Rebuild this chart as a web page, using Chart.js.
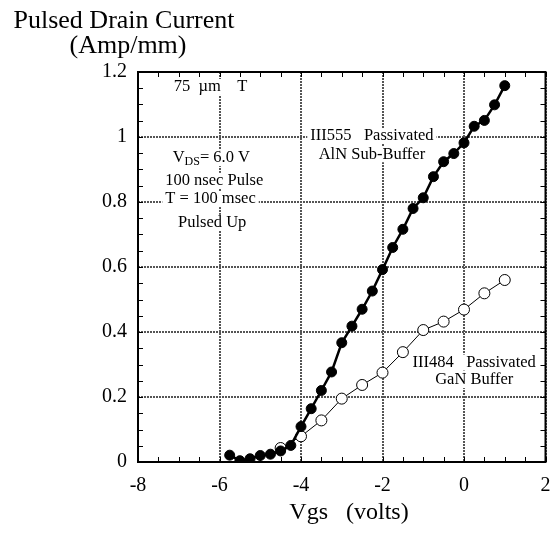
<!DOCTYPE html>
<html>
<head>
<meta charset="utf-8">
<script src="https://cdn.jsdelivr.net/npm/chart.js@4/dist/chart.umd.min.js"></script>
<style>
  html, body { margin: 0; padding: 0; background: #fff; }
  #wrap { width: 552px; height: 533px; }
</style>
</head>
<body>
<div id="wrap"><canvas id="myChart" width="552" height="533"></canvas></div>
<script>
(function() {
	'use strict';

	// Vgs (volts) for the III555 run, 0.25 V steps
	var vgsFilled = [-5.75, -5.5, -5.25, -5.0, -4.75, -4.5, -4.25, -4.0, -3.75, -3.5,
		-3.25, -3.0, -2.75, -2.5, -2.25, -2.0, -1.75, -1.5, -1.25, -1.0,
		-0.75, -0.5, -0.25, 0, 0.25, 0.5, 0.75, 1.0];
	// III555 Passivated, AlN Sub-Buffer (Amp/mm)
	var idFilled = [0.021, 0.004, 0.010, 0.020, 0.024, 0.034, 0.051, 0.109, 0.164, 0.220,
		0.277, 0.367, 0.418, 0.470, 0.526, 0.592, 0.660, 0.716, 0.780, 0.813,
		0.878, 0.924, 0.949, 0.982, 1.033, 1.051, 1.099, 1.158];

	// Vgs for the III484 run, 0.5 V steps
	var vgsOpen = [-4.5, -4.0, -3.5, -3.0, -2.5, -2.0, -1.5, -1.0, -0.5, 0, 0.5, 1.0];
	// III484 Passivated, GaN Buffer (Amp/mm)
	var idOpen = [0.043, 0.079, 0.128, 0.195, 0.237, 0.275, 0.338, 0.406, 0.432, 0.469, 0.519, 0.560];

	var xTicks = [-8, -6, -4, -2, 0, 2];
	var yTicks = [0, 0.2, 0.4, 0.6, 0.8, 1, 1.2];

	// text notes inside the plot, anchored in data units
	var notes = [
		{ x: -6.22, y: 1.154, text: '75  \u00b5m    T' },
		{ x: -6.2, y: 0.935, text: 'VDS= 6.0 V', sub: true },
		{ x: -6.13, y: 0.865, text: '100 nsec Pulse' },
		{ x: -6.22, y: 0.809, text: 'T = 100 msec' },
		{ x: -6.18, y: 0.736, text: 'Pulsed Up' },
		{ x: -2.26, y: 1.003, text: 'III555   Passivated' },
		{ x: -2.26, y: 0.947, text: 'AlN Sub-Buffer' },
		{ x: 0.25, y: 0.306, text: 'III484   Passivated' },
		{ x: 0.25, y: 0.252, text: 'GaN Buffer' }
	];

	var FONT = '"Liberation Serif", "DejaVu Serif", serif';

	function pts(xs, ys) {
		var out = [];
		for (var i = 0; i < xs.length; i++) {
			out.push({ x: xs[i], y: ys[i] });
		}
		return out;
	}

	// draws a note line, handles the V_DS subscript
	function drawNote(ctx, n, cx, cy) {
		var mainFont = '16.5px ' + FONT;
		var subFont = '12px ' + FONT;
		var parts;
		if (n.sub) {
			parts = [{ t: 'V', f: mainFont, dy: 0 }, { t: 'DS', f: subFont, dy: 4 }, { t: '= 6.0 V', f: mainFont, dy: 0 }];
		} else {
			parts = [{ t: n.text, f: mainFont, dy: 0 }];
		}
		var w = 0;
		parts.forEach(function(p) {
			ctx.font = p.f;
			p.w = ctx.measureText(p.t).width;
			w += p.w;
		});
		ctx.fillStyle = '#fff';
		ctx.fillRect(cx - w / 2 - 3, cy - 8, w + 6, 16);
		ctx.fillStyle = '#000';
		ctx.textBaseline = 'middle';
		ctx.textAlign = 'left';
		var x = cx - w / 2;
		parts.forEach(function(p) {
			ctx.font = p.f;
			ctx.fillText(p.t, x, cy + p.dy);
			x += p.w;
		});
	}

	var framePlugin = {
		id: 'frame',
		beforeDatasetsDraw: function(chart) {
			var ctx = chart.ctx;
			var xs = chart.scales.x, ys = chart.scales.y;
			ctx.save();
			notes.forEach(function(n) {
				drawNote(ctx, n, xs.getPixelForValue(n.x), ys.getPixelForValue(n.y));
			});
			ctx.restore();
		},
		afterDraw: function(chart) {
			var ctx = chart.ctx;
			var a = chart.chartArea;
			var xs = chart.scales.x, ys = chart.scales.y;
			var v, p;
			ctx.save();
			ctx.strokeStyle = '#000';
			ctx.lineWidth = 1;
			ctx.beginPath();
			// minor ticks on all four sides, pointing inward
			for (v = -8; v <= 2.001; v += 0.5) {
				p = Math.round(xs.getPixelForValue(v)) + 0.5;
				ctx.moveTo(p, a.bottom); ctx.lineTo(p, a.bottom - 5);
				ctx.moveTo(p, a.top); ctx.lineTo(p, a.top + 5);
			}
			for (v = 0; v <= 1.2001; v += 0.05) {
				p = Math.round(ys.getPixelForValue(v)) + 0.5;
				ctx.moveTo(a.left, p); ctx.lineTo(a.left + 5, p);
				ctx.moveTo(a.right, p); ctx.lineTo(a.right - 5, p);
			}
			ctx.stroke();
			ctx.lineWidth = 2;
			ctx.strokeRect(a.left, a.top, a.right - a.left, a.bottom - a.top);

			// axis titles
			ctx.fillStyle = '#000';
			ctx.textAlign = 'center';
			ctx.textBaseline = 'middle';
			ctx.font = '26px ' + FONT;
			ctx.fillText('Pulsed Drain Current', 124, 21);
			ctx.fillText('(Amp/mm)', 128, 46);
			ctx.font = '24px ' + FONT;
			ctx.fillText('Vgs   (volts)', 349, 513);
			ctx.restore();
		}
	};

	var ctx = document.getElementById('myChart').getContext('2d');
	var myChart = new Chart(ctx, {
		type: 'scatter',
		data: {
			datasets: [{
				label: 'III555 Passivated AlN Sub-Buffer',
				data: pts(vgsFilled, idFilled),
				showLine: true,
				borderColor: '#000',
				borderWidth: 2.5,
				backgroundColor: '#000',
				pointRadius: 5,
				pointBorderWidth: 1,
				pointBorderColor: '#000',
				pointBackgroundColor: '#000'
			}, {
				label: 'III484 Passivated GaN Buffer',
				data: pts(vgsOpen, idOpen),
				showLine: true,
				borderColor: '#000',
				borderWidth: 1,
				pointRadius: 5.5,
				pointBorderWidth: 1,
				pointBorderColor: '#000',
				pointBackgroundColor: '#fff'
			}]
		},
		options: {
			responsive: false,
			animation: false,
			layout: { padding: { top: 72, right: 3, left: 0, bottom: 0 } },
			plugins: {
				legend: { display: false },
				tooltip: { enabled: false }
			},
			scales: {
				x: {
					type: 'linear',
					min: -8,
					max: 2,
					afterBuildTicks: function(scale) {
						scale.ticks = xTicks.map(function(v) { return { value: v }; });
					},
					afterFit: function(scale) {
						scale.height = 71;
						scale.paddingLeft = 0;
						scale.paddingRight = 0;
					},
					border: { display: false, dash: [2, 1] },
					grid: {
						color: '#555',
						lineWidth: 2,
						drawTicks: false
					},
					ticks: {
						color: '#000',
						padding: 12,
						maxRotation: 0,
						font: { family: FONT, size: 20 }
					}
				},
				y: {
					type: 'linear',
					min: 0,
					max: 1.2,
					afterBuildTicks: function(scale) {
						scale.ticks = yTicks.map(function(v) { return { value: v }; });
					},
					afterFit: function(scale) {
						scale.width = 138;
						scale.paddingTop = 0;
						scale.paddingBottom = 0;
					},
					border: { display: false, dash: [2, 1] },
					grid: {
						color: '#555',
						lineWidth: 2,
						drawTicks: false
					},
					ticks: {
						color: '#000',
						padding: 11,
						font: { family: FONT, size: 20 },
						callback: function(v) { return String(+v.toFixed(1)); }
					}
				}
			}
		},
		plugins: [framePlugin]
	});
})();
</script>
</body>
</html>
